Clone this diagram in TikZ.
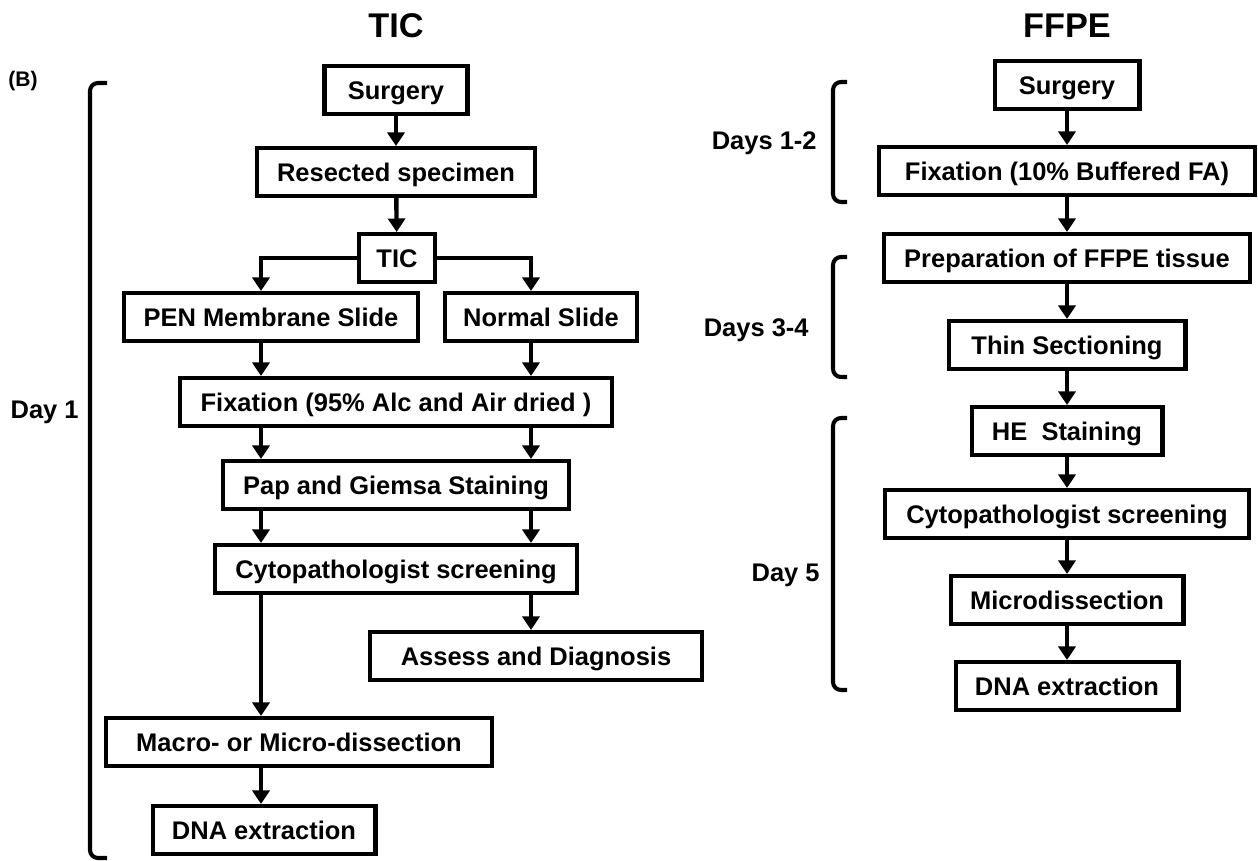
\documentclass[tikz,border=0pt]{standalone}
\usepackage{fontspec}
\setmainfont{Liberation Sans}
\usetikzlibrary{arrows.meta}

\begin{document}
\begin{tikzpicture}[x=0.02cm,y=-0.02cm]
        \tikzset{box/.style = {draw, line width=2.3pt, minimum height=0.96cm, inner sep=0pt,
                text height=10.4pt, text depth=0pt, font=\bfseries\fontsize{14.5}{17}\selectfont}}
        \tikzset{edge/.style = {-{Triangle[width=0.34cm,length=0.27cm]}, line width=2.5pt}}
        \tikzset{brace/.style = {line width=2.3pt, rounded corners=0.16cm}}
        \tikzset{daylabel/.style = {anchor=east, inner sep=0pt, font=\bfseries\fontsize{14.5}{17}\selectfont}}
        \tikzset{title/.style = {font=\bfseries\fontsize{19.5}{23}\selectfont}}
        \useasboundingbox (0,0) rectangle (1258,861);
        % titles
        \node[title] (titleL) at (396,26) {TIC};
        \node[title] (titleR) at (1067,26) {FFPE};
        \node[font=\bfseries\fontsize{12}{14}\selectfont] (panel) at (23,81) {(B)};
        % TIC column
        \node[box, minimum width=2.86cm] (surgL) at (396,90) {Surgery};
        \node[box, minimum width=5.56cm] (resL) at (396,172) {Resected specimen};
        \node[box, minimum width=1.52cm] (ticL) at (397,258) {TIC};
        \node[box, minimum width=5.88cm] (pen) at (271,317) {PEN Membrane Slide};
        \node[box, minimum width=3.84cm] (normal) at (541,317) {Normal Slide};
        \node[box, minimum width=8.66cm] (fixL) at (396,402) {Fixation (95\% Alc and Air dried )};
        \node[box, minimum width=6.94cm] (pap) at (396,485) {Pap and Giemsa Staining};
        \node[box, minimum width=7.26cm] (cytoL) at (396,569) {Cytopathologist screening};
        \node[box, minimum width=6.66cm] (assess) at (536,656) {Assess and Diagnosis};
        \node[box, minimum width=7.74cm] (macro) at (299,742) {Macro- or Micro-dissection};
        \node[box, minimum width=4.46cm] (dnaL) at (264,830) {DNA extraction};
        % FFPE column
        \node[box, minimum width=2.90cm] (surgR) at (1067,85) {Surgery};
        \node[box, minimum width=7.52cm] (fixR) at (1067,171) {Fixation (10\% Buffered FA)};
        \node[box, minimum width=7.34cm] (prep) at (1067,258) {Preparation of FFPE tissue};
        \node[box, minimum width=4.74cm] (thin) at (1067,345) {Thin Sectioning};
        \node[box, minimum width=3.82cm] (he) at (1067,431) {HE\ \ Staining};
        \node[box, minimum width=7.28cm] (cytoR) at (1067,514) {Cytopathologist screening};
        \node[box, minimum width=4.66cm] (micro) at (1067,600) {Microdissection};
        \node[box, minimum width=4.46cm] (dnaR) at (1067,686) {DNA extraction};
        % day labels
        \node[daylabel] (day1) at (79,412) {Day 1};
        \node[daylabel] (day12) at (817,143) {Days 1-2};
        \node[daylabel] (day34) at (809,330) {Days 3-4};
        \node[daylabel] (day5) at (820,575) {Day 5};
        % brackets
        \draw[brace] (107,83) -- (90,83) -- (90,858) -- (107,858);
        \draw[brace] (847,82) -- (833,82) -- (833,202) -- (847,202);
        \draw[brace] (847,257) -- (833,257) -- (833,377) -- (847,377);
        \draw[brace] (847,418) -- (833,418) -- (833,690) -- (847,690);
        % edges
        \coordinate (laneA) at (261,0);
        \coordinate (laneB) at (531,0);
        \draw[edge] (surgL) -- (resL);
        \draw[edge] (resL) -- (ticL);
        \draw[edge] (ticL.west) -| (pen.north -| laneA);
        \draw[edge] (ticL.east) -| (normal.north -| laneB);
        \draw[edge] (pen.south -| laneA) -- (fixL.north -| laneA);
        \draw[edge] (normal.south -| laneB) -- (fixL.north -| laneB);
        \draw[edge] (fixL.south -| laneA) -- (pap.north -| laneA);
        \draw[edge] (fixL.south -| laneB) -- (pap.north -| laneB);
        \draw[edge] (pap.south -| laneA) -- (cytoL.north -| laneA);
        \draw[edge] (pap.south -| laneB) -- (cytoL.north -| laneB);
        \draw[edge] (cytoL.south -| laneA) -- (macro.north -| laneA);
        \draw[edge] (cytoL.south -| laneB) -- (assess.north -| laneB);
        \draw[edge] (macro.south -| laneA) -- (dnaL.north -| laneA);
        \draw[edge] (surgR) -- (fixR);
        \draw[edge] (fixR) -- (prep);
        \draw[edge] (prep) -- (thin);
        \draw[edge] (thin) -- (he);
        \draw[edge] (he) -- (cytoR);
        \draw[edge] (cytoR) -- (micro);
        \draw[edge] (micro) -- (dnaR);
\end{tikzpicture}
\end{document}
